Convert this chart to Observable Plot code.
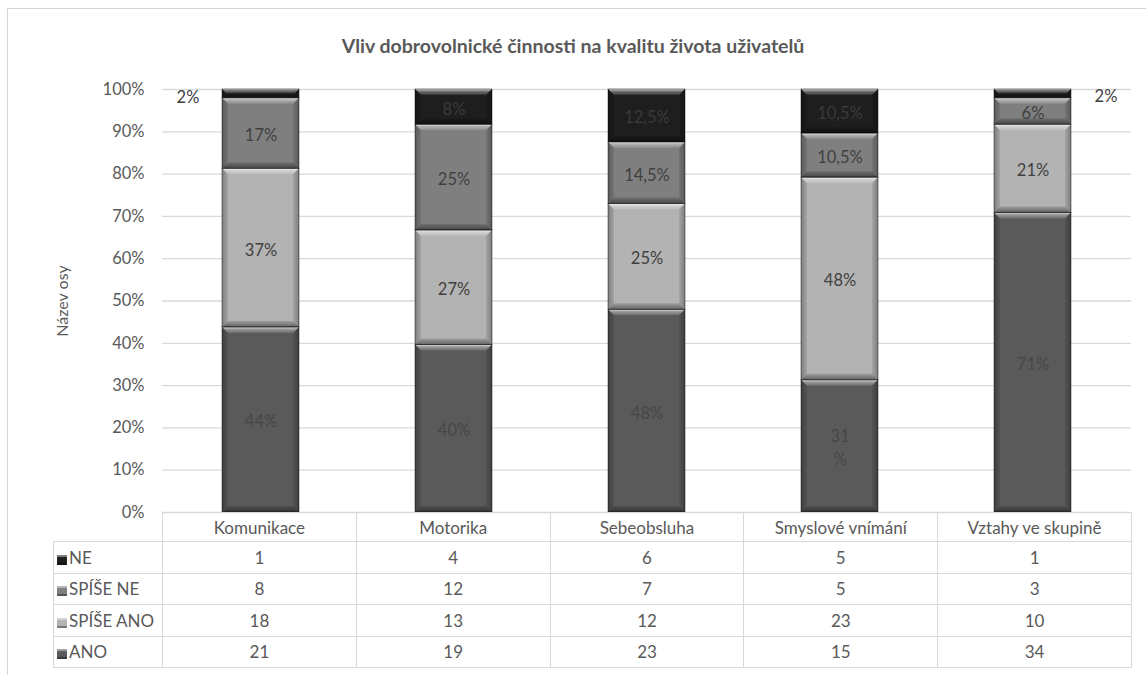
<!DOCTYPE html>
<html>
<head>
<meta charset="utf-8">
<script src="https://cdn.jsdelivr.net/npm/d3@7"></script>
<script src="https://cdn.jsdelivr.net/npm/@observablehq/plot@0.6"></script>
<style>
  html, body { margin: 0; padding: 0; background: #fff; overflow: hidden; }
  #chart { position: relative; width: 1146px; height: 675px; font-family: Lato, "Open Sans", sans-serif; color: #595959; }
  #frame { position: absolute; left: 7px; top: 8px; width: 1200px; height: 700px; border: 1px solid #d4d4d4; }
  #title { position: absolute; left: 0; top: 34px; width: 1146px; text-align: center; font-weight: bold; font-size: 19.5px; line-height: 24px; color: #595959; }
  #plot { position: absolute; left: 0; top: 70px; }
  #plot svg { overflow: visible; }
  #datatable { position: absolute; left: 53px; top: 512px; border-collapse: collapse; table-layout: fixed; font-size: 17px; color: #595959; }
  #datatable td { border: 1px solid #d9d9d9; padding: 0; text-align: center; white-space: nowrap; overflow: hidden; }
  #datatable tr.head td { height: 28px; }
  #datatable tr.row td { height: 30.5px; }
  #datatable td.corner { border-top: none; border-left: none; }
  #datatable td.key { text-align: left; padding-left: 3px; }
  .swatch { display: inline-block; width: 10px; height: 10px; margin-right: 2px; vertical-align: -1px; box-shadow: inset 0 2px 1px rgba(255,255,255,0.45), inset 0 -2px 1px rgba(0,0,0,0.35); }
</style>
</head>
<body>
<div id="chart">
  <div id="frame"></div>
  <div id="title">Vliv dobrovolnické činnosti na kvalitu života uživatelů</div>
  <div id="plot"></div>
</div>
<script>
// Categories and answer series (stacked bottom to top)
const categories = ["Komunikace", "Motorika", "Sebeobsluha", "Smyslové vnímání", "Vztahy ve skupině"];
const series = ["ANO", "SPÍŠE ANO", "SPÍŠE NE", "NE"];

// Answer counts per category
const ano      = [21, 19, 23, 15, 34];
const spiseAno = [18, 13, 12, 23, 10];
const spiseNe  = [8, 12, 7, 5, 3];
const ne       = [1, 4, 6, 5, 1];

// Percentage labels shown on the segments
const labelsAno      = ["44%", "40%", "48%", "31\n%", "71%"];
const labelsSpiseAno = ["37%", "27%", "25%", "48%", "21%"];
const labelsSpiseNe  = ["17%", "25%", "14,5%", "10,5%", "6%"];
const labelsNe       = ["2%", "8%", "12,5%", "10,5%", "2%"];

// Y axis ticks
const yTicks = [0, 0.1, 0.2, 0.3, 0.4, 0.5, 0.6, 0.7, 0.8, 0.9, 1];

const seriesColors = ["#5a5a5a", "#b3b3b3", "#7f7f7f", "#1e1e1e"];
const labelColors = ["#474747", "#404040", "#3f3f3f", "#3a3a3a"];

const counts = [ano, spiseAno, spiseNe, ne];
const labels = [labelsAno, labelsSpiseAno, labelsSpiseNe, labelsNe];

// Normalized stack per category
const rows = [];
categories.forEach((cat, i) => {
  const total = d3.sum(counts, c => c[i]);
  let acc = 0;
  series.forEach((s, j) => {
    const share = counts[j][i] / total;
    rows.push({cat, ci: i, series: s, count: counts[j][i], y1: acc, y2: acc + share, mid: acc + share / 2, label: labels[j][i], outside: share < 0.03});
    acc += share;
  });
});

const W = 1146, H = 454, mL = 162, mR = 15, mT = 19, mB = 12;

const labelMarks = series.map((s, j) =>
  Plot.text(rows.filter(d => d.series === s && !d.outside), {
    x: "cat", y: "mid", text: "label", fill: labelColors[j], fontSize: 16.5, lineHeight: 1.4
  })
);

const plot = Plot.plot({
  width: W, height: H,
  marginLeft: mL, marginRight: mR, marginTop: mT, marginBottom: mB,
  style: {fontFamily: "Lato, 'Open Sans', sans-serif", fontSize: "16px", color: "#595959", background: "transparent", overflow: "visible"},
  x: {domain: categories, paddingInner: 0.6, paddingOuter: 0.3, axis: null},
  y: {domain: [0, 1], axis: null},
  color: {domain: series, range: seriesColors},
  marks: [
    Plot.gridY(yTicks, {stroke: "#d9d9d9", strokeOpacity: 1, strokeWidth: 1.3}),
    Plot.axisY(yTicks, {tickSize: 0, tickPadding: 18, tickFormat: d3.format(".0%"), fill: "#595959", fontSize: 16.5, label: null}),
    Plot.barY(rows, {x: "cat", y1: "y1", y2: "y2", fill: "series"}),
    ...labelMarks,
    Plot.text(rows.filter(d => d.outside && d.ci === 0), {x: "cat", y: "mid", text: "label", dx: -73, dy: 3.5, fill: "#404040", fontSize: 16.5}),
    Plot.text(rows.filter(d => d.outside && d.ci !== 0), {x: "cat", y: "mid", text: "label", dx: 73, dy: 3, fill: "#404040", fontSize: 16.5}),
    Plot.text(["Název osy"], {frameAnchor: "left", textAnchor: "middle", dx: -100, rotate: -90, fill: "#595959", fontSize: 16})
  ]
});

// Bevelled look for the stacked segments
const svg = d3.select(plot);
const defs = svg.insert("defs", ":first-child");
function gradient(id, x2, y2, stops) {
  const g = defs.append("linearGradient").attr("id", id).attr("x1", 0).attr("y1", 0).attr("x2", x2).attr("y2", y2);
  stops.forEach(([o, c, a]) => g.append("stop").attr("offset", o).attr("stop-color", c).attr("stop-opacity", a));
}
gradient("bevTop", 0, 1, [[0, "#fff", 0.85], [0.35, "#fff", 0.4], [1, "#fff", 0.1]]);
gradient("bevBottom", 0, 1, [[0, "#000", 0.12], [1, "#000", 0.45]]);
gradient("bevLeft", 1, 0, [[0, "#000", 0.3], [1, "#000", 0.08]]);
gradient("bevRight", 1, 0, [[0, "#000", 0.08], [1, "#000", 0.3]]);

svg.selectAll('g[aria-label="bar"] rect').each(function () {
  const r = d3.select(this);
  const x = +r.attr("x"), y = +r.attr("y"), w = +r.attr("width"), h = +r.attr("height");
  const g = d3.select(this.parentNode);
  const b = Math.min(6, h / 2);
  const pts = p => p.map(q => q.join(",")).join(" ");
  g.append("polygon").attr("points", pts([[x, y], [x + w, y], [x + w - b, y + b], [x + b, y + b]])).attr("fill", "url(#bevTop)");
  g.append("polygon").attr("points", pts([[x, y + h], [x + w, y + h], [x + w - b, y + h - b], [x + b, y + h - b]])).attr("fill", "url(#bevBottom)");
  g.append("polygon").attr("points", pts([[x, y], [x + b, y + b], [x + b, y + h - b], [x, y + h]])).attr("fill", "url(#bevLeft)");
  g.append("polygon").attr("points", pts([[x + w, y], [x + w - b, y + b], [x + w - b, y + h - b], [x + w, y + h]])).attr("fill", "url(#bevRight)");
  g.append("rect").attr("x", x).attr("y", y).attr("width", w).attr("height", h)
    .attr("fill", "none").attr("stroke", "#000").attr("stroke-opacity", 0.55).attr("stroke-width", 0.8);
});

document.getElementById("plot").appendChild(plot);

// Data table below the plot, columns aligned with the x bands
const step = (W - mL - mR) / categories.length;
const table = d3.select("#chart").append("table").attr("id", "datatable");
const colgroup = table.append("colgroup");
colgroup.append("col").style("width", (mL - 53) + "px");
categories.forEach(() => colgroup.append("col").style("width", step + "px"));
const head = table.append("tr").attr("class", "head");
head.append("td").attr("class", "corner");
categories.forEach(c => head.append("td").text(c));
[3, 2, 1, 0].forEach(j => {
  const tr = table.append("tr").attr("class", "row");
  const key = tr.append("td").attr("class", "key");
  key.append("span").attr("class", "swatch").style("background", seriesColors[j]);
  key.append("span").text(series[j]);
  counts[j].forEach(v => tr.append("td").text(v));
});
</script>
</body>
</html>
